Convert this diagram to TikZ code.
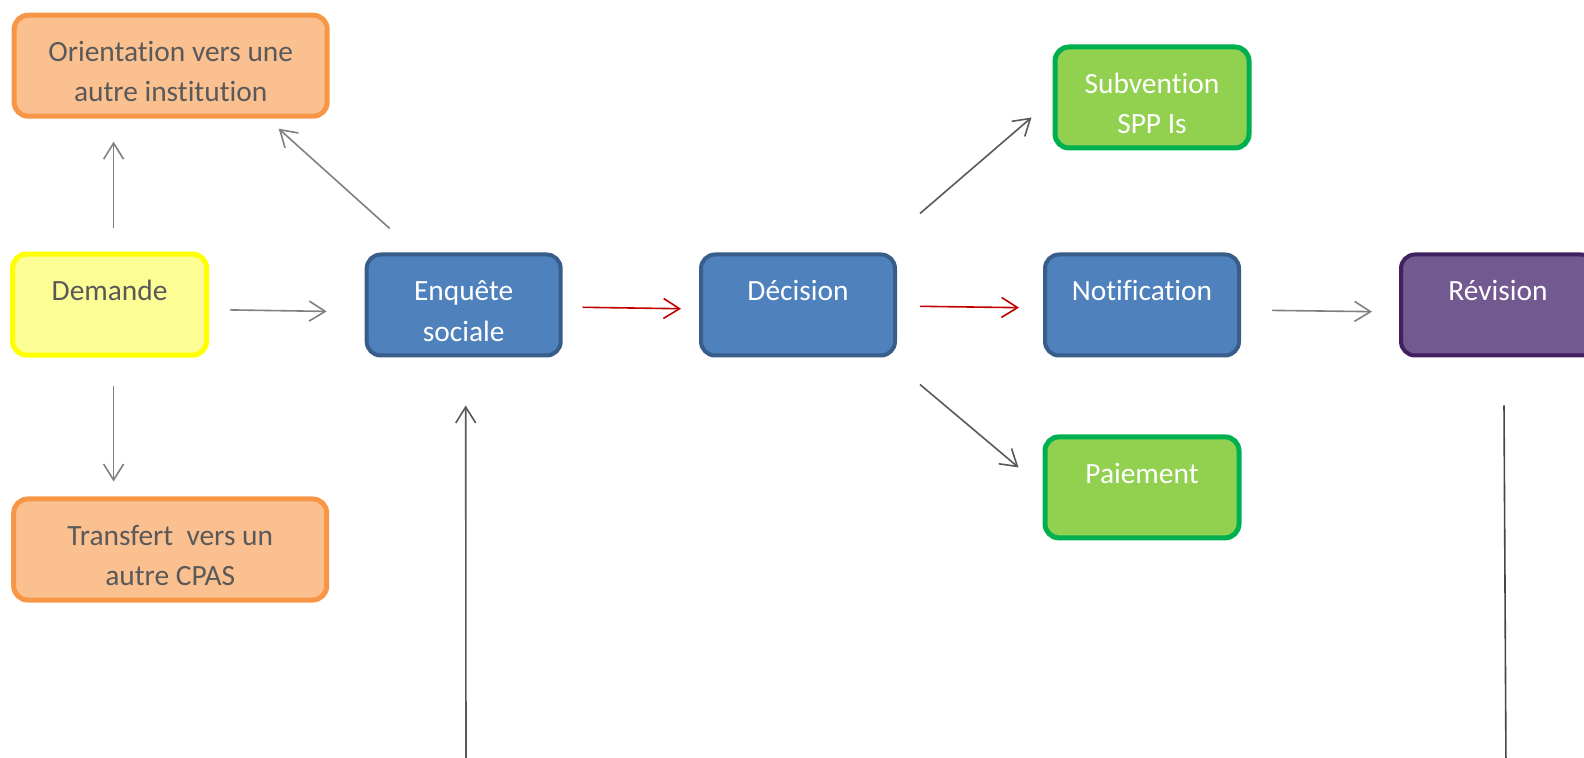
\documentclass[tikz,border=0pt]{standalone}
\usepackage{fontspec}
\setmainfont[Ligatures=NoCommon]{Carlito}
\usetikzlibrary{arrows.meta}

\definecolor{orfill}{HTML}{FAC090}
\definecolor{ordraw}{HTML}{F79646}
\definecolor{yelfill}{HTML}{FDFD96}
\definecolor{yeldraw}{HTML}{FFFF00}
\definecolor{bluefill}{HTML}{4F81BD}
\definecolor{bluedraw}{HTML}{385D8A}
\definecolor{greenfill}{HTML}{92D050}
\definecolor{greendraw}{HTML}{00B050}
\definecolor{purfill}{HTML}{725990}
\definecolor{purdraw}{HTML}{40205F}
\definecolor{txtgray}{HTML}{595959}
\definecolor{arrgray}{HTML}{808080}
\definecolor{arrdark}{HTML}{595959}
\definecolor{arrred}{HTML}{C00000}

% first line sits high in the box, second line may be empty
\newcommand{\twolines}[2]{\rule{0pt}{16.2pt}#1\\#2\mbox{}}

\begin{document}
\begin{tikzpicture}[x=0.5pt,y=-0.5pt,
        box/.style={rectangle, rounded corners=7pt, line width=2.5pt,
            minimum width=97pt, minimum height=50.5pt, inner sep=0pt,
            align=center, font=\fontsize{14.7}{20.2}\selectfont},
        widebox/.style={minimum width=156.5pt},
        orbox/.style={box, fill=orfill, draw=ordraw, text=txtgray},
        yelbox/.style={box, fill=yelfill, draw=yeldraw, text=txtgray},
        bluebox/.style={box, fill=bluefill, draw=bluedraw, line width=2pt, text=white},
        greenbox/.style={box, fill=greenfill, draw=greendraw, text=white},
        purbox/.style={box, fill=purfill, draw=purdraw, line width=2pt, text=white},
        tip/.style={-{Straight Barb[length=8pt,width=10pt]}},
        grayarrow/.style={tip, draw=arrgray, line width=0.8pt},
        darkarrow/.style={tip, draw=arrdark, line width=0.8pt},
        redarrow/.style={tip, draw=arrred, line width=0.8pt},
        darkline/.style={draw=arrdark!80!black, line width=0.8pt}]
        \useasboundingbox (0,0) rectangle (1584,758);
        \clip (0,0) rectangle (1584,758);

        % Boxes
        \node[orbox,widebox] (ori) at (170.7,65.7) {\twolines{Orientation vers une}{autre institution}};
        \node[yelbox] (dem) at (109.6,304.6) {\twolines{Demande}{}};
        \node[orbox,widebox] (trf) at (170.2,549.5) {\twolines{Transfert~ vers un}{autre CPAS}};
        \node[bluebox] (enq) at (463.7,305) {\twolines{Enquête}{sociale}};
        \node[bluebox] (dec) at (798,305) {\twolines{Décision}{}};
        \node[greenbox] (sub) at (1152,97.5) {\twolines{Subvention}{SPP Is}};
        \node[bluebox] (notif) at (1142,305) {\twolines{Notification}{}};
        \node[greenbox] (pai) at (1142,487.4) {\twolines{Paiement}{}};
        \node[purbox] (rev) at (1498,305) {\twolines{Révision}{}};

        % Free ends at the bottom edge
        \coordinate (inbot) at (466,770);
        \coordinate (outbot) at (1506,770);

        % Around the request
        \draw[grayarrow, shorten <=12pt, shorten >=11.5pt] ([xshift=2pt]dem.north) -- ([xshift=2pt]dem.north |- ori.south);
        \draw[grayarrow, shorten <=14pt, shorten >=7.5pt] ([xshift=2pt]dem.south) -- ([xshift=2pt]dem.south |- trf.north);
        \draw[grayarrow, shorten <=10.5pt, shorten >=19pt] ([yshift=-2.5pt]dem.east) -- ([yshift=-3.5pt]enq.west);
        \draw[grayarrow] ([shift={(25,-24)}]enq.north west) -- ([shift={(-51,10)}]ori.south east);

        % Main line
        \draw[redarrow, shorten <=10pt, shorten >=9pt] ([yshift=-1pt]enq.east) -- ([yshift=-2pt]dec.west);
        \draw[redarrow, shorten <=11.5pt, shorten >=12pt] ([yshift=-0.5pt]dec.east) -- ([yshift=-1.5pt]notif.west);
        \draw[grayarrow, shorten <=15.5pt, shorten >=13.5pt] ([yshift=-2.5pt]notif.east) -- ([yshift=-3.5pt]rev.west);

        % Outcomes of the decision
        \draw[darkarrow] ([shift={(23,-39)}]dec.north east) -- ([shift={(-21,-33)}]sub.south west);
        \draw[darkarrow] ([shift={(23,27)}]dec.south east) -- ([shift={(-24,33)}]pai.north west);

        % Loop lines running off the bottom
        \draw[darkarrow] (inbot) -- ([xshift=1pt,yshift=-24pt]enq.south);
        \draw[darkline] ([xshift=3pt,yshift=-24pt]rev.south) -- (outbot);
    \end{tikzpicture}
\end{document}
